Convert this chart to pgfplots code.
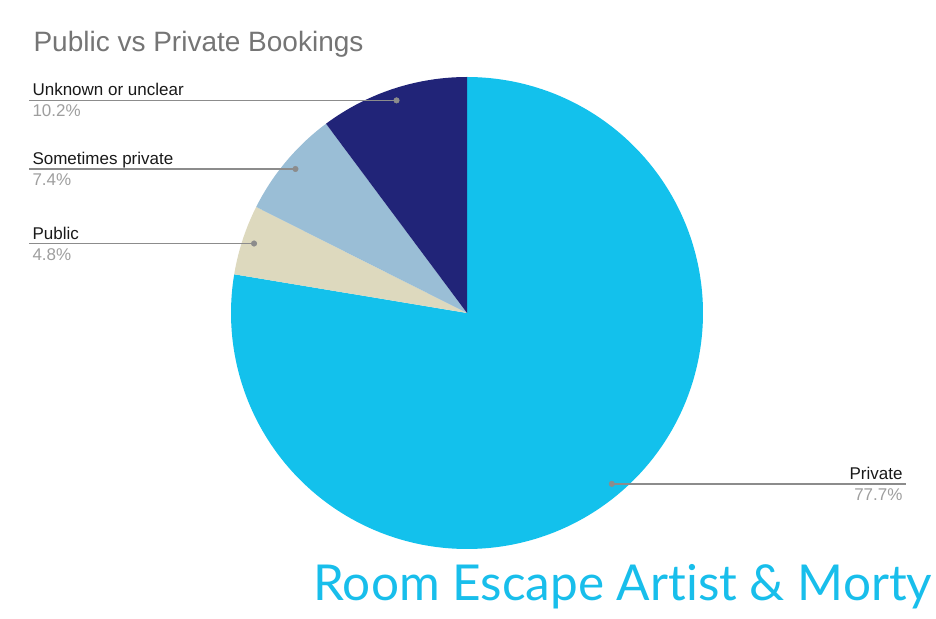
\documentclass[border=0pt]{standalone}
\usepackage{pgfplots}
\pgfplotsset{compat=1.18}
\usepackage{fontspec}
\setmainfont{Liberation Sans}
\newfontfamily\latofont[Ligatures={NoCommon,NoRare}]{Lato}
\definecolor{cPrivate}{RGB}{19,193,236}
\definecolor{cPublic}{RGB}{221,217,190}
\definecolor{cSometimes}{RGB}{154,190,214}
\definecolor{cUnknown}{RGB}{33,36,120}
\definecolor{leader}{RGB}{140,140,140}
\definecolor{pctgrey}{RGB}{158,158,158}
\definecolor{titlegrey}{RGB}{117,117,117}
\definecolor{brand}{RGB}{24,190,235}
% data (percent shares)
\def\vPrivate{77.7}
\def\vPublic{4.8}
\def\vSometimes{7.4}
\def\vUnknown{10.2}
\pgfmathsetmacro\total{\vPrivate+\vPublic+\vSometimes+\vUnknown}
\pgfmathsetmacro\k{360/\total}
\pgfmathsetmacro\aA{90}
\pgfmathsetmacro\aB{\aA-\vPrivate*\k}
\pgfmathsetmacro\aC{\aB-\vPublic*\k}
\pgfmathsetmacro\aD{\aC-\vSometimes*\k}
\pgfmathsetmacro\aE{\aD-\vUnknown*\k}
\def\cx{467}\def\cy{305}\def\R{236}\def\rd{224}
\pgfmathsetmacro\mPrivate{(\aA+\aB)/2}
\pgfmathsetmacro\mPublic{(\aB+\aC)/2}
\pgfmathsetmacro\mSometimes{(\aC+\aD)/2}
\pgfmathsetmacro\mUnknown{(\aD+\aE)/2}
\pgfmathsetmacro\xPrivate{\cx+\rd*cos(\mPrivate)}
\pgfmathsetmacro\yPrivate{\cy+\rd*sin(\mPrivate)}
\pgfmathsetmacro\xPublic{\cx+\rd*cos(\mPublic)}
\pgfmathsetmacro\yPublic{\cy+\rd*sin(\mPublic)}
\pgfmathsetmacro\xSometimes{\cx+\rd*cos(\mSometimes)}
\pgfmathsetmacro\ySometimes{\cy+\rd*sin(\mSometimes)}
\pgfmathsetmacro\xUnknown{\cx+\rd*cos(\mUnknown)}
\pgfmathsetmacro\yUnknown{\cy+\rd*sin(\mUnknown)}
\begin{document}
\begin{tikzpicture}
\begin{axis}[
  scale only axis, width=936pt, height=618pt,
  xmin=0, xmax=936, ymin=0, ymax=618,
  hide axis, clip=false,
  every node/.append style={inner sep=0pt, outer sep=0pt},
]
\path (axis cs:0,0) rectangle (axis cs:936,618);
% slices
\addplot[draw=none, fill=cPrivate, domain=\aB:\aA, samples=241]
  ({\cx+\R*cos(x)},{\cy+\R*sin(x)}) -- (axis cs:\cx,\cy) -- cycle;
\addplot[draw=none, fill=cPublic, domain=\aC:\aB, samples=41]
  ({\cx+\R*cos(x)},{\cy+\R*sin(x)}) -- (axis cs:\cx,\cy) -- cycle;
\addplot[draw=none, fill=cSometimes, domain=\aD:\aC, samples=41]
  ({\cx+\R*cos(x)},{\cy+\R*sin(x)}) -- (axis cs:\cx,\cy) -- cycle;
\addplot[draw=none, fill=cUnknown, domain=\aE:\aD, samples=61]
  ({\cx+\R*cos(x)},{\cy+\R*sin(x)}) -- (axis cs:\cx,\cy) -- cycle;
% leader lines
\draw[leader, line width=1.6pt] (axis cs:29,\yUnknown) -- (axis cs:\xUnknown,\yUnknown);
\draw[leader, line width=1.6pt] (axis cs:29,\ySometimes) -- (axis cs:\xSometimes,\ySometimes);
\draw[leader, line width=1.6pt] (axis cs:29,\yPublic) -- (axis cs:\xPublic,\yPublic);
\draw[leader, line width=1.6pt] (axis cs:\xPrivate,\yPrivate) -- (axis cs:906,\yPrivate);
\addplot[only marks, mark=*, mark size=2.8pt, color=leader] coordinates {
  (\xPrivate,\yPrivate) (\xPublic,\yPublic) (\xSometimes,\ySometimes) (\xUnknown,\yUnknown)};
% labels
\node[anchor=base west, font=\fontsize{17}{20}\selectfont, text=black!90] at (axis cs:29,\yUnknown+4.5) {Unknown or unclear};
\node[anchor=base west, font=\fontsize{17}{20}\selectfont, text=pctgrey] at (axis cs:29,\yUnknown-16.5) {10.2\%};
\node[anchor=base west, font=\fontsize{17}{20}\selectfont, text=black!90] at (axis cs:29,\ySometimes+4.5) {Sometimes private};
\node[anchor=base west, font=\fontsize{17}{20}\selectfont, text=pctgrey] at (axis cs:29,\ySometimes-16.5) {7.4\%};
\node[anchor=base west, font=\fontsize{17}{20}\selectfont, text=black!90] at (axis cs:29,\yPublic+4.5) {Public};
\node[anchor=base west, font=\fontsize{17}{20}\selectfont, text=pctgrey] at (axis cs:29,\yPublic-16.5) {4.8\%};
\node[anchor=base east, font=\fontsize{17}{20}\selectfont, text=black!90] at (axis cs:906,\yPrivate+4.5) {Private};
\node[anchor=base east, font=\fontsize{17}{20}\selectfont, text=pctgrey] at (axis cs:906,\yPrivate-16.5) {77.7\%};
% title
\node[anchor=base west, font=\fontsize{28}{32}\selectfont, text=titlegrey] at (axis cs:30,566) {Public vs Private Bookings};
% watermark
\node[anchor=base west, font=\latofont\fontsize{49.5}{58}\selectfont, text=brand] at (axis cs:310,18) {Room Escape Artist \& Morty};
\end{axis}
\end{tikzpicture}
\end{document}
